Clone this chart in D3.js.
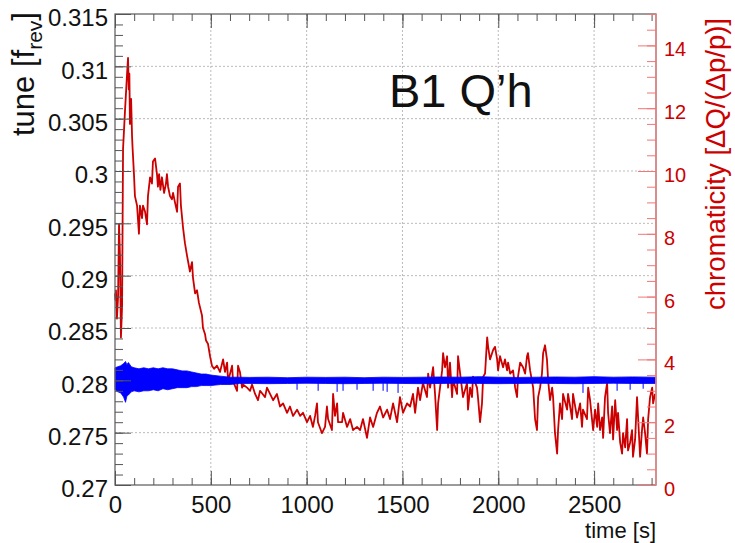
<!DOCTYPE html>
<html lang="en">
<head>
<meta charset="UTF-8">
<script src="https://d3js.org/d3.v7.min.js"></script>
<style>
  body { margin: 0; background: #fff; }
  svg text { font-family: "Liberation Sans", Arial, Helvetica, sans-serif; }
</style>
</head>
<body>
<div id="chart"></div>
<script>
// ---- data ----
const timeTicks = [0, 500, 1000, 1500, 2000, 2500];
const tuneTicks = [0.27, 0.275, 0.28, 0.285, 0.29, 0.295, 0.3, 0.305, 0.31, 0.315];
const tuneTickLabels = ["0.27", "0.275", "0.28", "0.285", "0.29", "0.295", "0.3", "0.305", "0.31", "0.315"];
const chromaTicks = [0, 2, 4, 6, 8, 10, 12, 14];

// chromaticity (red, right axis)
const chromaTime = [
  0,2,5,10,16,21,26,31,37,42,
  52,63,68,72,75,78,84,89,92,99,
  104,115,125,130,141,146,157,167,172,183,
  193,198,209,219,224,230,237,245,256,266,
  271,277,287,297,303,313,324,329,339,344,
  355,365,376,391,402,407,418,428,438,454,
  459,470,475,485,496,506,517,532,548,564,
  574,585,590,611,616,637,642,652,663,668,
  689,705,715,731,746,757,783,793,809,825,
  845,861,877,898,913,929,950,966,981,1002,
  1018,1033,1044,1054,1059,1080,1096,1106,1112,1132,
  1138,1148,1159,1164,1185,1190,1211,1227,1242,1263,
  1279,1294,1315,1331,1347,1367,1383,1399,1420,1435,
  1451,1472,1487,1503,1524,1540,1555,1566,1581,1592,
  1607,1628,1634,1644,1660,1670,1681,1686,1696,1707,
  1712,1722,1733,1738,1748,1759,1764,1785,1790,1801,
  1816,1837,1842,1853,1863,1868,1889,1894,1905,1915,
  1921,1931,1942,1947,1957,1973,1983,1994,1999,2009,
  2025,2035,2046,2051,2062,2077,2088,2098,2103,2114,
  2129,2140,2150,2155,2166,2182,2192,2202,2208,2218,
  2228,2234,2244,2254,2260,2270,2281,2286,2296,2307,
  2312,2322,2333,2338,2359,2364,2375,2385,2390,2411,
  2427,2437,2442,2463,2469,2479,2489,2495,2505,2516,
  2521,2531,2542,2547,2557,2568,2573,2583,2594,2599,
  2610,2620,2625,2636,2646,2651,2662,2672,2677,2688,
  2698,2703,2714,2724,2730,2740,2750,2756,2766,2776,
  2782,2792,2803,2808,2818
];
const chromaValue = [
  6.1,5.9,6.2,5.3,6.0,8.3,7.3,4.7,5.7,10.7,
  11.9,13.1,13.6,12.6,13.1,11.5,12.3,11.1,10.7,9.9,
  9.2,8.9,8.0,8.9,8.5,8.9,8.7,8.3,9.2,9.8,
  9.6,10.3,10.4,9.9,9.5,9.9,9.4,9.8,9.3,9.6,
  9.9,9.5,9.2,9.1,9.3,9.0,8.7,9.5,9.6,8.9,
  8.2,7.7,7.3,6.8,7.1,6.6,6.1,6.2,5.8,5.4,
  5.0,4.8,4.6,4.5,4.1,3.8,3.7,3.8,3.6,4.0,
  3.6,3.9,3.3,3.8,3.3,3.0,3.8,3.6,3.1,3.2,
  3.1,3.0,3.2,2.9,2.7,3.0,2.8,3.1,2.9,2.7,
  2.9,2.5,2.6,2.3,2.5,2.2,2.4,2.2,2.3,2.0,
  2.2,1.85,2.2,2.6,2.0,1.65,1.85,2.5,2.1,1.75,
  2.9,2.2,2.6,2.0,2.0,2.3,1.85,2.1,1.75,1.85,
  1.75,2.1,1.5,2.15,1.85,2.3,2.5,2.15,2.4,2.1,
  2.6,2.0,2.8,2.3,2.6,2.5,2.9,2.3,3.1,2.7,
  3.25,2.8,3.55,3.1,3.75,2.9,1.75,2.6,3.1,3.65,
  4.2,3.75,4.1,3.1,3.9,2.8,3.35,2.9,4.1,3.55,
  2.8,3.25,2.4,3.1,2.8,3.45,3.1,2.8,2.0,2.6,
  3.45,3.55,4.7,4.4,4.0,4.3,4.4,4.0,3.65,4.1,
  3.75,4.0,3.65,3.9,3.55,3.65,3.1,2.8,3.45,3.9,
  3.75,3.55,4.1,4.2,3.65,3.1,2.1,1.75,2.8,3.1,
  3.55,4.2,4.45,4.0,3.35,2.7,3.1,2.8,1.65,1.0,
  1.75,2.6,2.1,2.9,2.4,2.9,2.5,2.1,2.9,2.15,
  2.6,1.85,2.4,2.1,3.1,2.7,2.1,1.75,2.4,1.85,
  2.6,1.75,2.15,1.5,2.8,3.25,2.3,1.65,2.5,1.45,
  2.7,1.75,2.3,1.35,1.0,1.65,1.2,2.1,1.1,1.35,
  1.75,0.9,1.45,2.8,2.1,0.9,1.75,2.15,1.65,1.0,
  2.1,2.8,3.1,2.6,2.9
];

// tune (blue, left axis): upper and lower edge of the noisy band
const bandTime = [
  0,15,30,45,55,62,70,85,100,125,
  150,175,200,225,250,275,300,325,350,375,
  400,425,450,475,500,550,600,650,700,800,
  900,1000,1100,1200,1300,1400,1500,1600,1700,1800,
  1900,2000,2100,2200,2300,2400,2500,2600,2700,2823
];
const bandHigh = [
  0.2812,0.2813,0.2814,0.2816,0.2818,0.2815,0.2817,0.2813,0.2812,0.2811,
  0.2812,0.2811,0.2812,0.2811,0.2812,0.2811,0.2811,0.2810,0.2809,0.2809,
  0.2808,0.2807,0.2806,0.2806,0.2805,0.2804,0.2803,0.2803,0.28028,0.2803,
  0.28025,0.2803,0.28028,0.2803,0.28025,0.2803,0.28028,0.2803,0.28032,0.2803,
  0.28035,0.2803,0.28028,0.2803,0.28032,0.2803,0.28035,0.2803,0.28033,0.2803
];
const bandLow = [
  0.2791,0.2789,0.2788,0.2784,0.2779,0.2785,0.2786,0.2789,0.2790,0.2789,
  0.2790,0.2790,0.2791,0.2790,0.2792,0.2791,0.2792,0.2793,0.2793,0.2793,
  0.2794,0.2794,0.2795,0.2795,0.2795,0.2796,0.2796,0.2797,0.2797,0.27968,
  0.2797,0.27972,0.2797,0.27968,0.2797,0.27972,0.2797,0.27968,0.2797,0.27972,
  0.2797,0.27968,0.2797,0.27972,0.2797,0.27968,0.2797,0.27972,0.2797,0.2797
];
// downward glitches of the tune trace
const spikeTime = [950, 1060, 1159, 1190, 1263, 1347, 1399, 1420, 1477, 2442, 2620, 2688, 2756];
const spikeValue = [0.2791, 0.2790, 0.2789, 0.2790, 0.2791, 0.2790, 0.2790, 0.2789, 0.2788, 0.2788, 0.2790, 0.2791, 0.2792];

// ---- layout ----
const W = 735, H = 543;
const L = 115, R = 656, T = 14, B = 485;
const RED = "#cc0000", BLUE = "#0000ff";

const svg = d3.select("#chart").append("svg")
  .attr("width", W).attr("height", H);

const x = d3.scaleLinear().domain([0, 2823]).range([L, R]);
const yL = d3.scaleLinear().domain([0.27, 0.315]).range([B, T]);
const yR = d3.scaleLinear().domain([0, 15]).range([B, T]);

// grid
svg.append("g").selectAll("line").data(timeTicks.slice(1)).enter().append("line")
  .attr("x1", d => x(d)).attr("x2", d => x(d)).attr("y1", T).attr("y2", B)
  .attr("stroke", "#bbb").attr("stroke-dasharray", "2,2");
svg.append("g").selectAll("line").data(tuneTicks.slice(1, -1)).enter().append("line")
  .attr("x1", L).attr("x2", R).attr("y1", d => yL(d)).attr("y2", d => yL(d))
  .attr("stroke", "#bbb").attr("stroke-dasharray", "2,2");

// chromaticity
const chroma = d3.zip(chromaTime, chromaValue);
svg.append("path")
  .attr("d", d3.line().x(d => x(d[0])).y(d => yR(d[1]))(chroma))
  .attr("fill", "none").attr("stroke", RED).attr("stroke-width", 1.8)
  .attr("stroke-linejoin", "round");

// tune band
const band = d3.zip(bandTime, bandHigh, bandLow);
svg.append("path")
  .attr("d", d3.area().x(d => x(d[0])).y0(d => yL(d[2])).y1(d => yL(d[1]))(band))
  .attr("fill", BLUE).attr("stroke", BLUE).attr("stroke-width", 0.8);
svg.append("g").selectAll("line").data(d3.zip(spikeTime, spikeValue)).enter().append("line")
  .attr("x1", d => x(d[0])).attr("x2", d => x(d[0]))
  .attr("y1", yL(0.28)).attr("y2", d => yL(d[1]))
  .attr("stroke", BLUE).attr("stroke-width", 1);

// frame
svg.append("rect").attr("x", L).attr("y", T).attr("width", R - L).attr("height", B - T)
  .attr("fill", "none").attr("stroke", "#666").attr("stroke-width", 1.3);

function clean(g) { g.select(".domain").remove(); }

// left axis ticks (inside)
const tuneMinor = d3.range(0, 46).map(i => 0.27 + i * 0.001);
svg.append("g").attr("transform", `translate(${L},0)`)
  .call(d3.axisRight(yL).tickValues(tuneMinor).tickSize(8).tickFormat(""))
  .call(clean).selectAll("line").attr("stroke", "#555");
svg.append("g").attr("transform", `translate(${L},0)`)
  .call(d3.axisRight(yL).tickValues(tuneTicks).tickSize(16).tickFormat(""))
  .call(clean).selectAll("line").attr("stroke", "#555");
const leftLab = svg.append("g").attr("transform", `translate(${L},0)`)
  .call(d3.axisLeft(yL).tickValues(tuneTicks).tickSize(0).tickPadding(7)
    .tickFormat((d, i) => tuneTickLabels[i]))
  .call(clean);
leftLab.selectAll("text").attr("y", 4).attr("font-size", 24).attr("fill", "#111");

// bottom / top ticks
const timeMinor = d3.range(0, 29).map(i => i * 100);
[[B, d3.axisTop], [T, d3.axisBottom]].forEach(([yy, ax]) => {
  svg.append("g").attr("transform", `translate(0,${yy})`)
    .call(ax(x).tickValues(timeMinor).tickSize(7).tickFormat(""))
    .call(clean).selectAll("line").attr("stroke", "#555");
  svg.append("g").attr("transform", `translate(0,${yy})`)
    .call(ax(x).tickValues(timeTicks).tickSize(14).tickFormat(""))
    .call(clean).selectAll("line").attr("stroke", "#555");
});
const botLab = svg.append("g").attr("transform", `translate(0,${B})`)
  .call(d3.axisBottom(x).tickValues(timeTicks).tickSize(0).tickPadding(11).tickFormat(d3.format("d")))
  .call(clean);
botLab.selectAll("text").attr("font-size", 24).attr("fill", "#111");

// right axis (red)
const chromaMinor = d3.range(0, 31).map(i => i * 0.5);
svg.append("line").attr("x1", R).attr("x2", R).attr("y1", T).attr("y2", B)
  .attr("stroke", "#e88").attr("stroke-width", 1.5);
svg.append("g").attr("transform", `translate(${R},0)`)
  .call(d3.axisLeft(yR).tickValues(chromaMinor).tickSize(9).tickFormat(""))
  .call(clean).selectAll("line").attr("stroke", "#e77");
svg.append("g").attr("transform", `translate(${R},0)`)
  .call(d3.axisLeft(yR).tickValues(chromaTicks).tickSize(18).tickFormat(""))
  .call(clean).selectAll("line").attr("stroke", "#e77");
const rightLab = svg.append("g").attr("transform", `translate(${R},0)`)
  .call(d3.axisRight(yR).tickValues(chromaTicks).tickSize(0).tickPadding(8))
  .call(clean);
rightLab.selectAll("text").attr("y", 4).attr("font-size", 20).attr("fill", RED);

// titles
const lt = svg.append("text").attr("transform", "translate(34,12) rotate(-90)")
  .attr("text-anchor", "end").attr("font-size", 31).attr("fill", "#111");
lt.append("tspan").text("tune [f");
lt.append("tspan").attr("dy", 8).attr("font-size", 21).text("rev");
lt.append("tspan").attr("dy", -8).text("]");

svg.append("text").attr("transform", "translate(725,18) rotate(-90)")
  .attr("text-anchor", "end").attr("font-size", 27.5).attr("fill", RED)
  .text("chromaticity [ΔQ/(Δp/p)]");

svg.append("text").attr("x", R).attr("y", 538).attr("text-anchor", "end")
  .attr("font-size", 22).attr("fill", "#111").text("time [s]");

svg.append("text").attr("x", 389).attr("y", 107)
  .attr("font-size", 47).attr("fill", "#111").text("B1 Q’h");
</script>
</body>
</html>
